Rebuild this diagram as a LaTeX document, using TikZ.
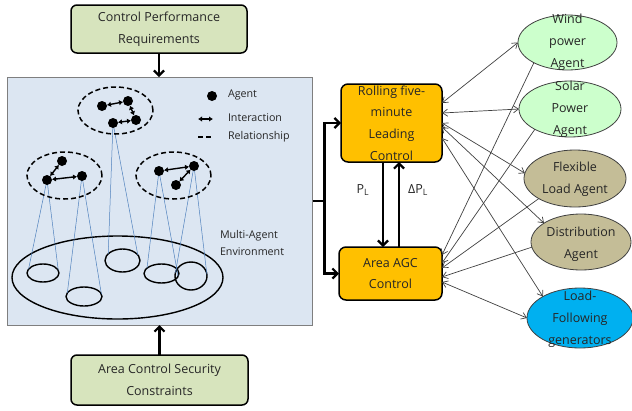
\documentclass[tikz,border=0pt]{standalone}
\usepackage{fontspec}
\setmainfont{Open Sans}
\usetikzlibrary{arrows.meta,calc,shapes.geometric}
\definecolor{boxgreen}{HTML}{D7E4BD}
\definecolor{panelfill}{HTML}{DCE6F2}
\definecolor{panelborder}{HTML}{7F7F7F}
\definecolor{ctrlorange}{HTML}{FFC000}
\definecolor{lgreen}{HTML}{CCFFCC}
\definecolor{tan}{HTML}{C4BD97}
\definecolor{lfblue}{HTML}{00B0F0}
\definecolor{txtc}{HTML}{262626}
\definecolor{ellborder}{HTML}{404040}
\definecolor{projblue}{HTML}{4F81BD}
\definecolor{linkgray}{HTML}{404040}
\begin{document}
\begin{tikzpicture}[x=1pt,y=-1pt,
  every node/.style={inner sep=0pt, outer sep=0pt},
  lbl/.style={font=\fontsize{12.5}{21.8}\selectfont, text=txtc, align=center},
  small/.style={font=\fontsize{10.7}{17}\selectfont, text=txtc},
  greenbox/.style={draw=black, line width=1.5pt, rounded corners=6pt, fill=boxgreen, minimum width=176pt, minimum height=48pt},
  ctrlbox/.style={draw=black, line width=1.5pt, rounded corners=7pt, fill=ctrlorange},
  agentell/.style={ellipse, draw=ellborder, line width=0.8pt},
  agentdot/.style={circle, fill=black, minimum size=10pt},
  inter/.style={{Latex[length=4pt,width=5.5pt]}-{Latex[length=4pt,width=5.5pt]}, line width=1.4pt},
  relgroup/.style={ellipse, draw=black, line width=1.5pt, dash pattern=on 5pt off 3pt},
  envell/.style={ellipse, draw=black, line width=1.4pt},
  proj/.style={draw=projblue, line width=0.5pt},
  bigarrow/.style={line width=2.2pt, -{Straight Barb[length=5pt,width=10pt]}},
  conntwo/.style={draw=linkgray, line width=0.7pt, {Straight Barb[length=5pt,width=7pt]}-{Straight Barb[length=5pt,width=7pt]}},
  connone/.style={draw=linkgray, line width=0.7pt, -{Straight Barb[length=5pt,width=7pt]}},
]
\useasboundingbox (0,0) rectangle (632,410);

% top and bottom boxes
\node[greenbox, lbl] (cpr) at (159,29) {Control Performance\\Requirements};
\node[greenbox, lbl, minimum height=50pt, minimum width=177pt] (acs) at (159.5,380) {Area Control Security\\Constraints};

% panel
\node[draw=panelborder, line width=1pt, fill=panelfill, minimum width=305pt, minimum height=248pt] (panel) at (160,201) {};
\draw[bigarrow] (cpr.south) -- (cpr.south |- panel.north);
\draw[bigarrow] (acs.north) -- (acs.north |- panel.south);

% agent positions
\coordinate (pa1) at (102,106);
\coordinate (pa2) at (128,101);
\coordinate (pa3) at (113,123);
\coordinate (pa4) at (136,120);
\coordinate (pb1) at (62,161);
\coordinate (pb2) at (47,180);
\coordinate (pb3) at (82,176);
\coordinate (pc1) at (159,171);
\coordinate (pc2) at (194,166);
\coordinate (pc3) at (176,185);

% environment
\node[envell, minimum width=211pt, minimum height=83pt] (env) at (117.5,277.5) {};
\node[envell, minimum width=32pt, minimum height=18pt] (e1) at (43,273) {};
\node[envell, minimum width=36pt, minimum height=19pt] (e2) at (84,296.5) {};
\node[envell, minimum width=35pt, minimum height=23pt] (e3) at (122.5,260.5) {};
\node[envell, minimum width=35pt, minimum height=19pt] (e4) at (161.5,273.5) {};
\node[envell, minimum width=32pt, minimum height=28pt] (e5) at (191,276) {};

% projections
\draw[proj] (pb2) -- (e1.165);
\draw[proj] (pb2) -- (e1.10);
\draw[proj] (pb3) -- (e2.168);
\draw[proj] (pb3) -- (e2.8);
\draw[proj] (pa3) -- (e3.155);
\draw[proj] (pa3) -- (e3.20);
\draw[proj] (pc1) -- (e4.160);
\draw[proj] (pc1) -- (e4.350);
\draw[proj] (pc2) -- (e5.168);
\draw[proj] (pc2) -- (e5.5);

% relationship groups
\node[relgroup, minimum width=75pt, minimum height=47pt] (g1) at (115.5,110.5) {};
\node[relgroup, minimum width=75pt, minimum height=47pt] (g2) at (64.5,175.5) {};
\node[relgroup, minimum width=75pt, minimum height=47pt] (g3) at (173.5,175.5) {};

% agents
\foreach \n in {a1,a2,a3,a4,b1,b2,b3,c1,c2,c3}{\node[agentdot] (\n) at (p\n) {};}
\draw[inter] (a1) -- (a2);
\draw[inter] (a3) -- (a4);
\draw[inter] (a2) -- (a4);
\draw[inter] (b2) -- (b3);
\draw[inter] (b1) -- (b2);
\draw[inter] (c1) -- (c2);
\draw[inter] (c2) -- (c3);

% legend
\node[agentdot] (lgA) at (212,96) {};
\node[small, anchor=west] (lgAT) at (228,95) {Agent};
\coordinate (li1) at (198,119);
\coordinate (li2) at (213,119);
\draw[inter] (li1) -- (li2);
\node[small, anchor=west] (lgIT) at (228,118) {Interaction};
\coordinate (lr1) at (198,137);
\coordinate (lr2) at (213,137);
\draw[line width=1.5pt, dash pattern=on 5pt off 3pt] (lr1) -- (lr2);
\node[small, anchor=west] (lgRT) at (228,137) {Relationship};

\node[small, anchor=west, align=left] (mae) at (220,242.5) {Multi-Agent\\Environment};

% controllers
\node[ctrlbox, minimum width=101pt, minimum height=78pt] (roll) at (391.5,123) {};
\node[lbl] (rollT) at (roll) {Rolling five-\\minute\\Leading\\Control};
\node[ctrlbox, lbl, minimum width=103pt, minimum height=53pt] (agc) at (390.5,273.5) {Area AGC\\Control};

\coordinate (jn) at ($(panel.east)+(12,0)$);
\draw[line width=2.2pt] (panel.east) -- (jn);
\draw[bigarrow] (jn) |- (roll.west);
\draw[bigarrow] (jn) |- (agc.west);

\coordinate (pl1) at ($(roll.south)+(-8.5,0)$);
\coordinate (pl2) at ($(roll.south)+(7.5,0)$);
\draw[bigarrow] (pl1) -- (pl1 |- agc.north);
\draw[bigarrow] (pl2 |- agc.north) -- (pl2);
\node[lbl] (plT) at (363,190) {P\textsubscript{L}};
\node[lbl] (dplT) at (418,190) {ΔP\textsubscript{L}};

% agent ellipses
\node[agentell, fill=lgreen, minimum width=99pt, minimum height=55pt] (wind) at (567.5,42.5) {};
\node[lbl] (windT) at (wind) {Wind\\power\\Agent};
\node[agentell, fill=lgreen, minimum width=102pt, minimum height=56pt] (solar) at (570,109) {};
\node[lbl] (solarT) at (solar) {Solar\\Power\\Agent};
\node[agentell, fill=tan, minimum width=102pt, minimum height=57pt] (flex) at (575,178.5) {};
\node[lbl] (flexT) at ($(flex)+(0,0.5)$) {Flexible\\Load Agent};
\node[agentell, fill=tan, minimum width=100pt, minimum height=56pt] (dist) at (581,242) {};
\node[lbl] (distT) at ($(dist)+(0,2)$) {Distribution\\Agent};
\node[agentell, fill=lfblue, minimum width=106pt, minimum height=60pt] (lf) at (580,318) {};
\node[lbl] (lfT) at ($(lf)+(0,1)$) {Load-\\Following\\generators};

% links
\draw[conntwo] ($(roll.east)+(0,-20)$) -- (wind.west);
\draw[conntwo] ($(roll.east)+(0,-10)$) -- (solar.west);
\draw[conntwo] (roll.east) -- (flex.174);
\draw[conntwo] ($(roll.east)+(0,4)$) -- (dist.153);
\draw[conntwo] ($(roll.east)+(0,15)$) -- (lf.150);
\draw[connone] (wind.211) -- ($(agc.east)+(0,-18.5)$);
\draw[connone] (solar.210) -- ($(agc.east)+(0,-10.5)$);
\draw[connone] (flex.209) -- ($(agc.east)+(0,-5.5)$);
\draw[connone] (dist.186) -- ($(agc.east)+(0,3.5)$);
\draw[conntwo] ($(agc.east)+(0,8.5)$) -- (lf.west);
\end{tikzpicture}
\end{document}
